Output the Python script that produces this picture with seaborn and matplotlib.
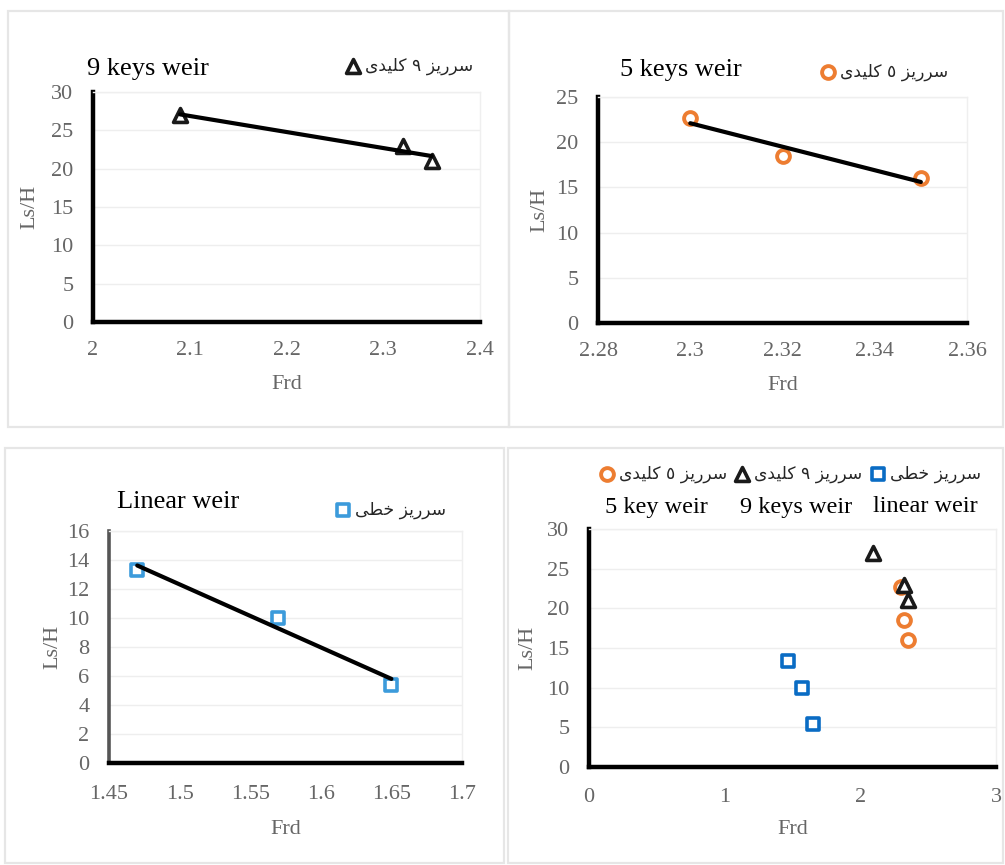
import numpy as np
import pandas as pd
import matplotlib
matplotlib.use("Agg")
import matplotlib.pyplot as plt
import seaborn as sns
from matplotlib.patches import Rectangle

# ---------------- data ----------------
frd_9 = [2.09, 2.32, 2.35]
ls_9 = [27.0, 23.0, 21.0]
frd_5 = [2.30, 2.32, 2.35]
ls_5 = [22.7, 18.5, 16.0]
frd_lin = [1.47, 1.57, 1.65]
ls_lin = [13.3, 10.0, 5.4]

label_9 = "سرریز ۹ کلیدی"
label_5 = "سرریز ٥ کلیدی"
label_lin = "سرریز خطی"

title_9 = "9 keys weir"
title_5 = "5 keys weir"
title_lin = "Linear weir"
eng_labels = ["5 key weir", "9 keys weir", "linear weir"]

xticks_9 = [2.0, 2.1, 2.2, 2.3, 2.4]
yticks_9 = [0, 5, 10, 15, 20, 25, 30]
xticks_5 = [2.28, 2.30, 2.32, 2.34, 2.36]
yticks_5 = [0, 5, 10, 15, 20, 25]
xticks_lin = [1.45, 1.5, 1.55, 1.6, 1.65, 1.7]
yticks_lin = [0, 2, 4, 6, 8, 10, 12, 14, 16]
xticks_all = [0, 1, 2, 3]
yticks_all = [0, 5, 10, 15, 20, 25, 30]

# ------------- minimal Arabic shaping (presentation forms, visual order) -------------
FORMS = {
    "س": ("\uFEB1", "\uFEB2", "\uFEB3", "\uFEB4"),
    "ر": ("\uFEAD", "\uFEAE", None, None),
    "ز": ("\uFEAF", "\uFEB0", None, None),
    "د": ("\uFEA9", "\uFEAA", None, None),
    "ی": ("\uFBFC", "\uFBFD", "\uFBFE", "\uFBFF"),
    "ک": ("\uFB8E", "\uFB8F", "\uFB90", "\uFB91"),
    "ل": ("\uFEDD", "\uFEDE", "\uFEDF", "\uFEE0"),
    "خ": ("\uFEA5", "\uFEA6", "\uFEA7", "\uFEA8"),
    "ط": ("\uFEC1", "\uFEC2", "\uFEC3", "\uFEC4"),
}


def shape(text):
    out = []
    n = len(text)
    for i, ch in enumerate(text):
        if ch not in FORMS:
            out.append(ch)
            continue
        prev = text[i - 1] if i > 0 else ""
        nxt = text[i + 1] if i < n - 1 else ""
        joins_prev = prev in FORMS and FORMS[prev][2] is not None
        joins_next = nxt in FORMS and FORMS[ch][2] is not None
        iso, fin, ini, med = FORMS[ch]
        if joins_prev and joins_next:
            out.append(med)
        elif joins_prev:
            out.append(fin)
        elif joins_next:
            out.append(ini)
        else:
            out.append(iso)
    return "".join(out)[::-1]


# ---------------- style ----------------
sns.set_theme(style="white")
plt.rcParams["font.family"] = ["Liberation Serif", "DejaVu Sans"]

W, H = 1005, 865
fig = plt.figure(figsize=(W / 100, H / 100), dpi=100)
fig.patch.set_facecolor("white")

ORANGE = "#ED7D31"
BLUE_L = "#3C9BDB"
BLUE_D = "#0A6CC4"
TICKC = "#666666"
AR_FONT = ["DejaVu Sans"]


def fx(px):
    return px / W


def fy(py):
    return 1 - py / H


def add_ax(l, t, r, b):
    return fig.add_axes([l / W, 1 - b / H, (r - l) / W, (b - t) / H])


# panel frames
for (l, t, r, b) in [(8, 11, 509, 427), (509, 11, 1003, 427),
                     (5, 448, 504, 863), (508, 448, 1003, 863)]:
    fig.add_artist(Rectangle((fx(l), fy(b)), (r - l) / W, (b - t) / H,
                             transform=fig.transFigure, fill=False,
                             edgecolor="#E6E6E6", lw=1.6, zorder=0))


def style_ax(ax, xticks, yticks, xlim, ylim, ylab_px, xlab_px, left_color="black",
             xpad=14.0):
    ax.set_xlim(*xlim)
    ax.set_ylim(*ylim)
    ax.set_xticks(xticks)
    ax.set_yticks(yticks)
    ax.set_xticklabels([("%g" % v) for v in xticks])
    ax.set_yticklabels([("%g" % v) for v in yticks])
    ax.set_facecolor("white")
    for s in ["top", "right"]:
        ax.spines[s].set_color("#EFEFEF")
        ax.spines[s].set_linewidth(1)
    ax.spines["bottom"].set_color("black")
    ax.spines["bottom"].set_linewidth(3.2)
    ax.spines["left"].set_color(left_color)
    ax.spines["left"].set_linewidth(3.2)
    ax.grid(axis="y", color="#EEEEEE", lw=1)
    ax.grid(axis="x", visible=False)
    ax.tick_params(axis="both", direction="in", length=6, width=3, color="black",
                   labelsize=16, labelcolor=TICKC)
    ax.tick_params(axis="x", pad=xpad)
    ax.tick_params(axis="y", pad=14)
    ax.set_xlabel("Frd", fontsize=16, color=TICKC)
    ax.set_ylabel("Ls/H", fontsize=16, color=TICKC)
    bb = ax.get_position()
    axw = bb.width * W
    axh = bb.height * H
    ax.yaxis.set_label_coords(-ylab_px / axw, 0.5)
    ax.xaxis.set_label_coords(0.5, -xlab_px / axh)


def trend(ax, x, y):
    sns.regplot(x=np.array(x), y=np.array(y), ax=ax, scatter=False, ci=None,
                truncate=True, line_kws=dict(color="black", lw=3, zorder=4))


def legend1(ax, handles, labels, x_px, y_px, ncol=1, colsp=1.0):
    leg = ax.legend(handles, labels, loc="center left",
                    bbox_to_anchor=(fx(x_px), fy(y_px)), bbox_transform=fig.transFigure,
                    frameon=False, borderpad=0, borderaxespad=0, handlelength=0.9,
                    handletextpad=0.25, ncol=ncol, columnspacing=colsp,
                    prop=dict(family=AR_FONT, size=12.3))
    for t in leg.get_texts():
        t.set_color("#262626")
    return leg


# ---------------- panel 1: 9 keys ----------------
ax1 = add_ax(93, 92, 480, 322)
trend(ax1, frd_9, ls_9)
sns.scatterplot(x=frd_9, y=ls_9, ax=ax1, marker="^", s=100, facecolor="white",
                edgecolor="#1a1a1a", linewidth=2.6, zorder=3)
style_ax(ax1, xticks_9, yticks_9, (2.0, 2.4), (0, 30), 54, 53)
h = ax1.collections[-1]
legend1(ax1, [h], [shape(label_9)], 345, 66)
ax1.text(fx(87), fy(69), title_9, transform=fig.transFigure, fontsize=19,
         ha="left", va="center", color="black")

# ---------------- panel 2: 5 keys ----------------
ax2 = add_ax(598, 97, 967, 323)
trend(ax2, frd_5, ls_5)
sns.scatterplot(x=frd_5, y=ls_5, ax=ax2, marker="o", s=85, facecolor="white",
                edgecolor=ORANGE, linewidth=2.8, zorder=3)
style_ax(ax2, xticks_5, yticks_5, (2.28, 2.36), (0, 25), 49, 53)
h = ax2.collections[-1]
legend1(ax2, [h], [shape(label_5)], 820, 72)
ax2.text(fx(620), fy(70), title_5, transform=fig.transFigure, fontsize=19,
         ha="left", va="center", color="black")

# ---------------- panel 3: linear ----------------
ax3 = add_ax(109, 531, 462, 763)
trend(ax3, frd_lin, ls_lin)
sns.scatterplot(x=frd_lin, y=ls_lin, ax=ax3, marker="s", s=85, facecolor="white",
                edgecolor=BLUE_L, linewidth=2.6, zorder=3)
style_ax(ax3, xticks_lin, yticks_lin, (1.45, 1.7), (0, 16), 47, 57,
         left_color="#555555", xpad=15.5)
ax3.spines["left"].set_linewidth(2.6)
h = ax3.collections[-1]
legend1(ax3, [h], [shape(label_lin)], 335, 510)
ax3.text(fx(117), fy(502), title_lin, transform=fig.transFigure, fontsize=19,
         ha="left", va="center", color="black")

# ---------------- panel 4: all ----------------
ax4 = add_ax(589, 529, 996, 767)
sns.scatterplot(x=frd_5, y=ls_5, ax=ax4, marker="o", s=85, facecolor="white",
                edgecolor=ORANGE, linewidth=2.8, zorder=3)
sns.scatterplot(x=frd_9, y=ls_9, ax=ax4, marker="^", s=100, facecolor="white",
                edgecolor="#1a1a1a", linewidth=2.6, zorder=4)
sns.scatterplot(x=frd_lin, y=ls_lin, ax=ax4, marker="s", s=85, facecolor="white",
                edgecolor=BLUE_D, linewidth=2.6, zorder=3)
style_ax(ax4, xticks_all, yticks_all, (0, 3), (0, 30), 52, 53, xpad=15)
hs = ax4.collections[-3:]
legend1(ax4, hs, [shape(label_5), shape(label_9), shape(label_lin)], 599, 474,
        ncol=3, colsp=0.45)
for txt, cx in zip(eng_labels, [656, 796, 925]):
    ax4.text(fx(cx), fy(507), txt, transform=fig.transFigure, fontsize=17.5,
             ha="center", va="center", color="black")

fig.savefig("out.png", dpi=100, facecolor="white")
